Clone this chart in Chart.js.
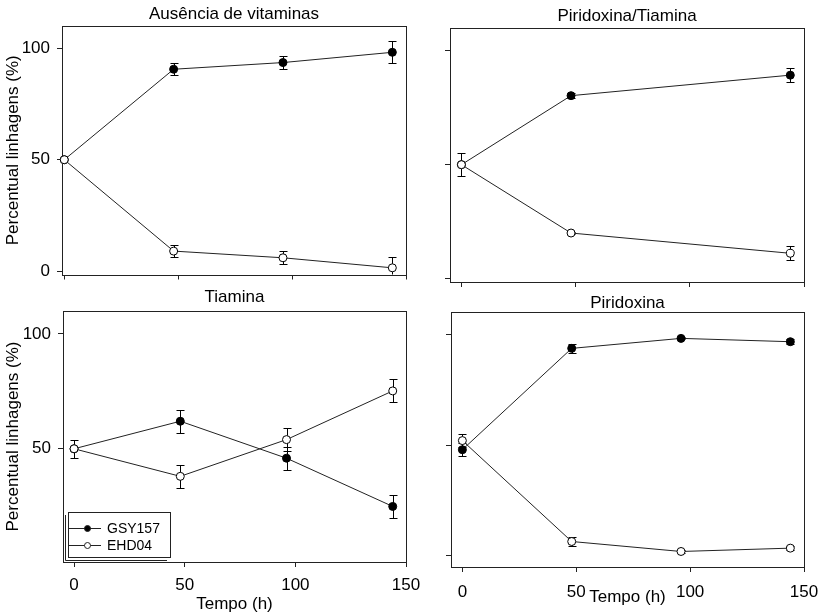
<!DOCTYPE html>
<html>
<head>
<meta charset="utf-8">
<script src="https://cdn.jsdelivr.net/npm/chart.js@4/dist/chart.umd.min.js"></script>
<style>
  body { margin: 0; background: #fff; }
  #quadro { position: relative; width: 820px; height: 616px; overflow: hidden; }
  #quadro canvas { position: absolute; }
</style>
</head>
<body>
<div id="quadro">
  <canvas id="semVit"></canvas>
  <canvas id="pirTia"></canvas>
  <canvas id="tia"></canvas>
  <canvas id="pir"></canvas>
</div>
<script>
// tempos de coleta (h)
const horas = [0, 48, 96, 144];
const horasPT = [0, 48, 144];

// Ausência de vitaminas
const semVitGSY = [50, 90.6, 93.6, 98.2];
const semVitGSYErr = [0, 2.8, 3, 5];
const semVitEHD = [50, 9, 6, 1.5];
const semVitEHDErr = [0, 2.8, 3, 5];

// Piridoxina/Tiamina
const pirTiaGSY = [50, 80.3, 89.3];
const pirTiaGSYErr = [0, 1, 3];
const pirTiaEHD = [50, 20, 11.1];
const pirTiaEHDErr = [5, 0.6, 3];

// Tiamina
const tiaGSY = [50, 62, 45.9, 24.9];
const tiaGSYErr = [0, 5, 5, 5];
const tiaEHD = [50, 38, 54, 75.2];
const tiaEHDErr = [4, 5, 5, 5];

// Piridoxina
const pirGSY = [47.9, 93.6, 98.1, 96.6];
const pirGSYErr = [3, 2, 0.5, 1];
const pirEHD = [52, 6.5, 2, 3.5];
const pirEHDErr = [3, 2, 0.5, 0.8];

const linhagens = ['GSY157', 'EHD04'];
const xTicks = [0, 50, 100, 150];
const yTicks = [0, 50, 100];

Chart.defaults.font.family = '"Liberation Sans", Arial, sans-serif';
Chart.defaults.font.weight = 400;
Chart.defaults.color = '#000';

const COR = '#222';
const fonte = { size: 17, weight: 400, lineHeight: 1 };

// contorno completo da área do gráfico
const moldura = {
  id: 'moldura',
  beforeDatasetsDraw(chart) {
    const { ctx, chartArea: a } = chart;
    ctx.save();
    ctx.strokeStyle = COR;
    ctx.lineWidth = 1;
    ctx.strokeRect(Math.round(a.left) + 0.5, Math.round(a.top) + 0.5,
      Math.round(a.right - a.left), Math.round(a.bottom - a.top));
    ctx.restore();
  }
};

// barras de erro (desvio) com traço nas pontas
const barrasErro = {
  id: 'barrasErro',
  beforeDatasetsDraw(chart) {
    const { ctx, chartArea: a, scales: { x, y } } = chart;
    ctx.save();
    ctx.beginPath();
    ctx.rect(a.left, a.top, a.right - a.left, a.bottom - a.top);
    ctx.clip();
    ctx.strokeStyle = '#000';
    ctx.lineWidth = 1;
    chart.data.datasets.forEach(ds => {
      ds.data.forEach((p, i) => {
        const e = ds.errors[i];
        if (!e) return;
        const px = Math.round(x.getPixelForValue(p.x)) + 0.5;
        const t = Math.round(y.getPixelForValue(p.y + e)) + 0.5;
        const b = Math.round(y.getPixelForValue(p.y - e)) + 0.5;
        ctx.beginPath();
        ctx.moveTo(px, t); ctx.lineTo(px, b);
        ctx.moveTo(px - 4, t); ctx.lineTo(px + 4, t);
        ctx.moveTo(px - 4, b); ctx.lineTo(px + 4, b);
        ctx.stroke();
      });
    });
    ctx.restore();
  }
};

// legenda em caixa dentro do painel
const legendaCaixa = {
  id: 'legendaCaixa',
  afterDraw(chart, args, opts) {
    if (!opts.display) return;
    const { ctx } = chart;
    const { left, top, right, bottom } = opts;
    ctx.save();
    ctx.strokeStyle = COR;
    ctx.lineWidth = 1;
    ctx.strokeRect(left + 0.5, top + 0.5, right - left, bottom - top);
    // sombra à esquerda e embaixo
    ctx.beginPath();
    ctx.moveTo(left - 2.5, top + 3); ctx.lineTo(left - 2.5, bottom + 3.5);
    ctx.lineTo(right - 3, bottom + 3.5);
    ctx.stroke();
    ctx.font = '14px "Liberation Sans", Arial, sans-serif';
    ctx.textBaseline = 'middle';
    ctx.fillStyle = '#000';
    chart.data.datasets.forEach((ds, i) => {
      const yy = top + 16.5 + i * 17;
      ctx.beginPath();
      ctx.moveTo(left + 1, yy); ctx.lineTo(left + 33, yy);
      ctx.stroke();
      ctx.beginPath();
      ctx.arc(left + 19.5, yy, 3, 0, Math.PI * 2);
      ctx.fillStyle = ds.pointBackgroundColor;
      ctx.fill();
      ctx.stroke();
      ctx.fillStyle = '#000';
      ctx.fillText(ds.label, left + 39, yy + 0.5);
    });
    ctx.restore();
  }
};

function painel(id, cfg) {
  const cv = document.getElementById(id);
  const g = cfg.geo;
  cv.width = g.w;
  cv.height = g.h;
  cv.style.left = g.left + 'px';
  cv.style.top = g.top + 'px';
  const pontos = ys => cfg.horas.map((h, i) => ({ x: h, y: ys[i] }));
  const serie = (label, ys, errs, fundo, ordem) => ({
    label, data: pontos(ys), errors: errs, order: ordem,
    borderColor: COR, borderWidth: 1, clip: false,
    pointRadius: 4, pointHoverRadius: 4, pointBorderWidth: 1,
    pointBorderColor: '#000', pointBackgroundColor: fundo
  });

  new Chart(cv.getContext('2d'), {
    type: 'line',
    data: {
      datasets: [
        serie(linhagens[0], cfg.gsy, cfg.gsyErr, '#000', 1),
        serie(linhagens[1], cfg.ehd, cfg.ehdErr, '#fff', 0)
      ]
    },
    options: {
      responsive: false,
      animation: false,
      events: [],
      layout: { padding: { left: 0, right: g.padRight, top: 0, bottom: 0 } },
      plugins: {
        legend: { display: false },
        tooltip: { enabled: false },
        title: {
          display: true, text: cfg.titulo, fullSize: false, color: '#000',
          font: fonte, padding: g.titlePad
        },
        legendaCaixa: cfg.legenda || { display: false }
      },
      scales: {
        x: {
          type: 'linear', min: cfg.xMin, max: 150,
          afterBuildTicks: s => { s.ticks = xTicks.map(v => ({ value: v })); },
          afterFit: s => {
            s.height = g.h - g.areaBottom;
            s.paddingLeft = 0;
            s.paddingRight = 0;
          },
          grid: { drawOnChartArea: false, tickLength: 5, color: COR },
          border: { display: false },
          ticks: { display: cfg.xLabels, padding: g.xTickPad || 6, font: fonte, maxRotation: 0 },
          title: {
            display: cfg.xLabels, text: 'Tempo (h)',
            font: fonte, padding: { top: 0, bottom: g.xTitleBottom || 0 }
          }
        },
        y: {
          type: 'linear', min: cfg.yMin, max: 110,
          afterBuildTicks: s => {
            s.ticks = yTicks.filter(v => v >= cfg.yMin).map(v => ({ value: v }));
          },
          afterFit: s => { s.width = g.areaLeft; },
          grid: { drawOnChartArea: false, tickLength: 5, color: COR },
          border: { display: false },
          ticks: { display: cfg.yLabels, padding: 7, font: fonte },
          title: {
            display: cfg.yLabels, text: 'Percentual linhagens (%)',
            font: fonte, padding: { top: 5, bottom: 0 }
          }
        }
      }
    },
    plugins: [moldura, barrasErro, legendaCaixa]
  });
}

painel('semVit', {
  titulo: 'Ausência de vitaminas', horas,
  gsy: semVitGSY, gsyErr: semVitGSYErr, ehd: semVitEHD, ehdErr: semVitEHDErr,
  xMin: -1, yMin: -1.5, xLabels: false, yLabels: true,
  geo: { left: 0, top: 0, w: 420, h: 290, areaLeft: 62, areaBottom: 275, padRight: 14,
         titlePad: { top: 6, bottom: 3 } }
});

painel('pirTia', {
  titulo: 'Piridoxina/Tiamina', horas: horasPT,
  gsy: pirTiaGSY, gsyErr: pirTiaGSYErr, ehd: pirTiaEHD, ehdErr: pirTiaEHDErr,
  xMin: -5, yMin: -1.5, xLabels: false, yLabels: false,
  geo: { left: 420, top: 0, w: 400, h: 290, areaLeft: 30, areaBottom: 282, padRight: 16,
         titlePad: { top: 7.5, bottom: 3.5 } }
});

painel('tia', {
  titulo: 'Tiamina', horas,
  gsy: tiaGSY, gsyErr: tiaGSYErr, ehd: tiaEHD, ehdErr: tiaEHDErr,
  xMin: -5, yMin: 0.7, xLabels: true, yLabels: true,
  legenda: { display: true, left: 68, top: 227, right: 170, bottom: 272 },
  geo: { left: 0, top: 285, w: 420, h: 331, areaLeft: 63, areaBottom: 277, padRight: 14,
         titlePad: { top: 3.5, bottom: 5.5 }, xTitleBottom: 3.5, xTickPad: 10 }
});

painel('pir', {
  titulo: 'Piridoxina', horas,
  gsy: pirGSY, gsyErr: pirGSYErr, ehd: pirEHD, ehdErr: pirEHDErr,
  xMin: -5, yMin: -5, xLabels: true, yLabels: false,
  geo: { left: 420, top: 285, w: 400, h: 331, areaLeft: 31, areaBottom: 282, padRight: 16,
         titlePad: { top: 9.5, bottom: 0.5 }, xTitleBottom: 10, xTickPad: 12 }
});
</script>
</body>
</html>
